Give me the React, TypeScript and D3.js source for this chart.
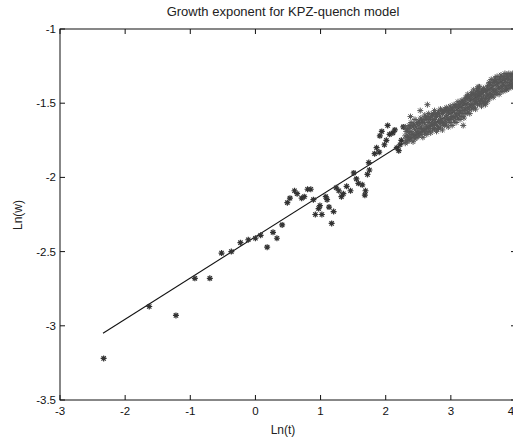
import React from "react";
import * as d3 from "d3";

const titleText = "Growth exponent for KPZ-quench model";
const xLabel = "Ln(t)";
const yLabel = "Ln(w)";
const xTicks = [-3, -2, -1, 0, 1, 2, 3, 4];
const yTicks = [-3.5, -3, -2.5, -2, -1.5, -1];

// fitted line (endpoints)
const fitX = [-2.34, 4.0];
const fitY = [-3.05, -1.29];

// isolated points (x, y)
const sparsePoints: [number, number][] = [
  [-2.33, -3.22], [-1.63, -2.87], [-1.22, -2.93], [-0.93, -2.68], [-0.7, -2.68],
  [-0.52, -2.51], [-0.37, -2.5], [-0.23, -2.44], [-0.11, -2.42], [0.0, -2.41],
  [0.08, -2.39], [0.18, -2.47], [0.27, -2.37], [0.33, -2.41], [0.41, -2.32],
  [0.49, -2.17], [0.53, -2.14], [0.6, -2.09], [0.64, -2.11], [0.71, -2.14],
  [0.75, -2.13], [0.8, -2.08], [0.85, -2.08], [0.89, -2.15], [0.92, -2.25],
  [0.97, -2.21], [0.99, -2.19], [1.02, -2.25], [1.08, -2.13], [1.1, -2.15],
  [1.13, -2.2], [1.17, -2.31], [1.2, -2.23], [1.24, -2.07], [1.28, -2.09],
  [1.32, -2.13], [1.35, -2.11], [1.4, -2.06], [1.46, -2.09], [1.51, -1.97],
  [1.55, -2.01], [1.58, -2.04], [1.64, -2.05], [1.69, -2.09], [1.68, -2.12],
  [1.72, -1.98], [1.75, -1.95], [1.74, -1.9], [1.83, -1.84], [1.86, -1.8],
  [1.91, -1.72], [1.94, -1.69], [1.98, -1.78], [1.9, -1.83], [2.03, -1.65],
  [2.06, -1.71], [2.11, -1.7], [2.14, -1.68], [2.17, -1.8], [2.2, -1.82],
  [2.24, -1.75], [2.27, -1.66], [2.22, -1.78], [2.01, -1.75],
];

// dense cluster points (x, y)
const densePoints: [number, number][] = [
  [2.3, -1.66], [2.3, -1.72], [2.3, -1.77],
  [2.33, -1.68], [2.33, -1.73], [2.33, -1.76],
  [2.36, -1.65], [2.36, -1.7], [2.36, -1.75],
  [2.39, -1.63], [2.39, -1.69], [2.39, -1.74],
  [2.42, -1.66], [2.42, -1.71], [2.42, -1.76],
  [2.45, -1.61], [2.45, -1.68], [2.45, -1.74],
  [2.48, -1.64], [2.48, -1.7], [2.48, -1.73],
  [2.51, -1.62], [2.51, -1.67], [2.51, -1.72],
  [2.54, -1.6], [2.54, -1.66], [2.54, -1.71],
  [2.57, -1.63], [2.57, -1.69], [2.57, -1.73],
  [2.6, -1.58], [2.6, -1.64], [2.6, -1.7],
  [2.63, -1.61], [2.63, -1.66], [2.63, -1.71],
  [2.66, -1.57], [2.66, -1.63], [2.66, -1.69],
  [2.69, -1.6], [2.69, -1.65], [2.69, -1.7],
  [2.72, -1.58], [2.72, -1.62], [2.72, -1.68],
  [2.75, -1.55], [2.75, -1.61], [2.75, -1.67],
  [2.78, -1.59], [2.78, -1.64], [2.78, -1.69],
  [2.81, -1.56], [2.81, -1.62], [2.81, -1.67],
  [2.84, -1.54], [2.84, -1.6], [2.84, -1.66],
  [2.87, -1.57], [2.87, -1.63], [2.87, -1.68],
  [2.9, -1.55], [2.9, -1.6], [2.9, -1.65],
  [2.93, -1.53], [2.93, -1.58], [2.93, -1.64],
  [2.96, -1.56], [2.96, -1.61], [2.96, -1.66],
  [2.99, -1.52], [2.99, -1.57], [2.99, -1.63],
  [3.02, -1.54], [3.02, -1.59], [3.02, -1.65],
  [3.05, -1.51], [3.05, -1.56], [3.05, -1.62],
  [3.08, -1.53], [3.08, -1.58], [3.08, -1.63],
  [3.11, -1.49], [3.11, -1.55], [3.11, -1.6],
  [3.14, -1.51], [3.14, -1.56], [3.14, -1.61],
  [3.17, -1.48], [3.17, -1.53], [3.17, -1.59],
  [3.2, -1.5], [3.2, -1.55], [3.2, -1.6],
  [3.23, -1.46], [3.23, -1.51], [3.23, -1.57],
  [3.26, -1.44], [3.26, -1.5], [3.26, -1.56],
  [3.29, -1.47], [3.29, -1.52], [3.29, -1.57],
  [3.32, -1.43], [3.32, -1.48], [3.32, -1.54],
  [3.35, -1.41], [3.35, -1.47], [3.35, -1.53],
  [3.38, -1.44], [3.38, -1.49], [3.38, -1.54],
  [3.41, -1.4], [3.41, -1.45], [3.41, -1.51],
  [3.44, -1.39], [3.44, -1.44], [3.44, -1.5],
  [3.47, -1.42], [3.47, -1.47], [3.47, -1.52],
  [3.5, -1.4], [3.5, -1.45], [3.5, -1.5],
  [3.53, -1.42], [3.53, -1.47], [3.53, -1.51],
  [3.56, -1.39], [3.56, -1.44], [3.56, -1.49],
  [3.59, -1.36], [3.59, -1.41], [3.59, -1.47],
  [3.62, -1.34], [3.62, -1.4], [3.62, -1.45],
  [3.65, -1.36], [3.65, -1.41], [3.65, -1.46],
  [3.68, -1.33], [3.68, -1.38], [3.68, -1.44],
  [3.71, -1.32], [3.71, -1.37], [3.71, -1.43],
  [3.74, -1.34], [3.74, -1.39], [3.74, -1.44],
  [3.77, -1.31], [3.77, -1.36], [3.77, -1.42],
  [3.8, -1.32], [3.8, -1.37], [3.8, -1.42],
  [3.83, -1.3], [3.83, -1.35], [3.83, -1.41],
  [3.86, -1.31], [3.86, -1.36], [3.86, -1.41],
  [3.89, -1.3], [3.89, -1.34], [3.89, -1.4],
  [3.92, -1.31], [3.92, -1.35], [3.92, -1.39],
  [3.95, -1.3], [3.95, -1.34], [3.95, -1.39],
  [3.98, -1.31], [3.98, -1.35], [3.98, -1.38],
  [2.64, -1.51], [2.53, -1.55], [3.42, -1.39], [3.19, -1.65], [3.25, -1.46], [2.38, -1.59],
];

// more dense cluster points, between the columns above (x, y)
const densePoints2: [number, number][] = [
  [2.315, -1.69], [2.315, -1.75], [2.345, -1.67], [2.345, -1.72],
  [2.375, -1.66], [2.375, -1.73], [2.405, -1.65], [2.405, -1.71],
  [2.435, -1.64], [2.435, -1.72], [2.465, -1.66], [2.465, -1.71],
  [2.495, -1.63], [2.495, -1.69], [2.525, -1.64], [2.525, -1.7],
  [2.555, -1.62], [2.555, -1.68], [2.585, -1.61], [2.585, -1.67],
  [2.615, -1.6], [2.615, -1.68], [2.645, -1.59], [2.645, -1.66],
  [2.675, -1.61], [2.675, -1.67], [2.705, -1.58], [2.705, -1.64],
  [2.735, -1.57], [2.735, -1.65], [2.765, -1.58], [2.765, -1.63],
  [2.795, -1.57], [2.795, -1.66], [2.825, -1.58], [2.825, -1.63],
  [2.855, -1.55], [2.855, -1.62], [2.885, -1.56], [2.885, -1.64],
  [2.915, -1.54], [2.915, -1.62], [2.945, -1.55], [2.945, -1.6],
  [2.975, -1.54], [2.975, -1.61], [3.005, -1.55], [3.005, -1.6],
  [3.035, -1.53], [3.035, -1.59], [3.065, -1.52], [3.065, -1.6],
  [3.095, -1.51], [3.095, -1.57], [3.125, -1.52], [3.125, -1.58],
  [3.155, -1.5], [3.155, -1.55], [3.185, -1.49], [3.185, -1.57],
  [3.215, -1.48], [3.215, -1.54], [3.245, -1.47], [3.245, -1.53],
  [3.275, -1.46], [3.275, -1.54], [3.305, -1.45], [3.305, -1.51],
  [3.335, -1.44], [3.335, -1.51], [3.365, -1.45], [3.365, -1.5],
  [3.395, -1.42], [3.395, -1.48], [3.425, -1.42], [3.425, -1.47],
  [3.455, -1.44], [3.455, -1.49], [3.485, -1.42], [3.485, -1.48],
  [3.515, -1.41], [3.515, -1.49], [3.545, -1.41], [3.545, -1.46],
  [3.575, -1.38], [3.575, -1.45], [3.605, -1.37], [3.605, -1.43],
  [3.635, -1.38], [3.635, -1.44], [3.665, -1.35], [3.665, -1.42],
  [3.695, -1.35], [3.695, -1.41], [3.725, -1.36], [3.725, -1.4],
  [3.755, -1.33], [3.755, -1.4], [3.785, -1.34], [3.785, -1.39],
  [3.815, -1.33], [3.815, -1.38], [3.845, -1.32], [3.845, -1.39],
  [3.875, -1.33], [3.875, -1.38], [3.905, -1.32], [3.905, -1.37],
  [3.935, -1.32], [3.935, -1.37], [3.965, -1.33], [3.965, -1.37],
];

const W = 513;
const H = 442;
const left = 60;
const right = 516;
const top = 29;
const bottom = 400;
const font = "'Liberation Sans', Arial, Helvetica, sans-serif";

function asterisk(r: number) {
  const d = r * 0.72;
  return `M${-r},0L${r},0M0,${-r}L0,${r}M${-d},${-d}L${d},${d}M${-d},${d}L${d},${-d}`;
}

export default function App() {
  const x = d3.scaleLinear().domain([-3, 4]).range([left, right]);
  const y = d3.scaleLinear().domain([-3.5, -1]).range([bottom, top]);
  const lineGen = d3
    .line<number>()
    .x((_, i) => x(fitX[i]))
    .y((_, i) => y(fitY[i]));
  const marker = asterisk(3);
  const tickLen = 5;
  const fmt = (v: number) => String(v);
  const dense = [...densePoints, ...densePoints2];
  return (
    <svg
      width={W}
      height={H}
      style={{ position: "absolute", left: 0, top: 0, background: "#fff" }}
    >
      <rect x={0} y={0} width={W} height={H} fill="#fff" />
      <text x={283} y={16} textAnchor="middle" fontFamily={font} fontSize={13} fill="#222">
        {titleText}
      </text>
      <rect x={left} y={top} width={right - left} height={bottom - top} fill="none" stroke="#111" strokeWidth={1} />
      {xTicks.map((t) => (
        <g key={"xt" + t}>
          <line x1={x(t)} x2={x(t)} y1={bottom} y2={bottom - tickLen} stroke="#111" />
          <line x1={x(t)} x2={x(t)} y1={top} y2={top + tickLen} stroke="#111" />
          <text x={Math.min(x(t), 511)} y={bottom + 15} textAnchor="middle" fontFamily={font} fontSize={11.5} fill="#111">
            {fmt(t)}
          </text>
        </g>
      ))}
      {yTicks.map((t) => (
        <g key={"yt" + t}>
          <line x1={left} x2={left + tickLen} y1={y(t)} y2={y(t)} stroke="#111" />
          <line x1={right} x2={right - tickLen} y1={y(t)} y2={y(t)} stroke="#111" />
          <text x={left - 4} y={y(t) + 4} textAnchor="end" fontFamily={font} fontSize={11.5} fill="#111">
            {fmt(t)}
          </text>
        </g>
      ))}
      <text x={283} y={434} textAnchor="middle" fontFamily={font} fontSize={12} fill="#222">
        {xLabel}
      </text>
      <text
        transform={`translate(22,${215}) rotate(-90)`}
        textAnchor="middle"
        fontFamily={font}
        fontSize={12}
        fill="#222"
      >
        {yLabel}
      </text>
      <path d={lineGen(fitX) || ""} fill="none" stroke="#111" strokeWidth={1.1} />
      {sparsePoints.map((p, i) => (
        <path
          key={"s" + i}
          d={marker}
          transform={`translate(${x(p[0])},${y(p[1])})`}
          fill="none"
          stroke="#333"
          strokeWidth={1.2}
        />
      ))}
      {dense.map((p, i) => (
        <path
          key={"d" + i}
          d={marker}
          transform={`translate(${x(p[0])},${y(p[1])})`}
          fill="none"
          stroke="#555"
          strokeWidth={1}
        />
      ))}
    </svg>
  );
}
